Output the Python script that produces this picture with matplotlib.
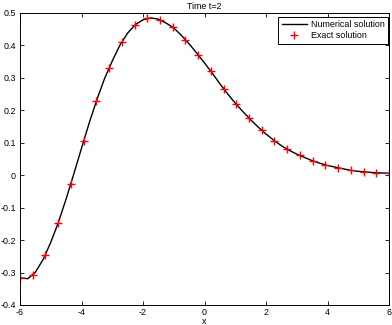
import numpy as np
import matplotlib
matplotlib.use("Agg")
import matplotlib.pyplot as plt

plt.rcParams['font.family'] = ['Liberation Sans', 'DejaVu Sans']
plt.rcParams['axes.unicode_minus'] = False

# Exact solution (markers)
exact_x = np.linspace(-6, 6, 30)
exact_y = [-0.316, -0.306, -0.246, -0.147, -0.026, 0.105, 0.229, 0.332, 0.411, 0.462,
           0.484, 0.479, 0.457, 0.418, 0.371, 0.320, 0.266, 0.218, 0.176, 0.138,
           0.106, 0.080, 0.061, 0.044, 0.032, 0.023, 0.015, 0.011, 0.008, 0.006]

# Numerical solution (line)
num_x = np.arange(-6, 6.001, 0.25)
num_y = [-0.316, -0.319, -0.299, -0.260, -0.207, -0.145, -0.073, 0.004, 0.083, 0.161,
         0.233, 0.298, 0.352, 0.401, 0.438, 0.464, 0.479, 0.485, 0.481, 0.469,
         0.454, 0.431, 0.405, 0.376, 0.346, 0.315, 0.282, 0.251, 0.222, 0.196,
         0.171, 0.148, 0.127, 0.108, 0.091, 0.077, 0.065, 0.055, 0.045, 0.037,
         0.030, 0.025, 0.020, 0.015, 0.012, 0.010, 0.008, 0.007, 0.006]

xticks = [-6, -4, -2, 0, 2, 4, 6]
xtick_labels = ['-6', '-4', '-2', '0', '2', '4', '6']
yticks = [-0.4, -0.3, -0.2, -0.1, 0, 0.1, 0.2, 0.3, 0.4, 0.5]
ytick_labels = ['-0.4', '-0.3', '-0.2', '-0.1', '0', '0.1', '0.2', '0.3', '0.4', '0.5']

FS = 6.4

fig = plt.figure(figsize=(3.92, 3.25), dpi=100)
ax = fig.add_axes([20/392, 20/325, 369/392, 292/325])

ax.plot(num_x, num_y, color='black', lw=1.0, label='Numerical solution')
ax.plot(exact_x, exact_y, linestyle='none', marker='+', color='red',
        markersize=5.2, markeredgewidth=1.0, label='Exact solution')

ax.set_xlim(-6, 6)
ax.set_ylim(-0.4, 0.5)
ax.set_xticks(xticks)
ax.set_xticklabels(xtick_labels)
ax.set_yticks(yticks)
ax.set_yticklabels(ytick_labels)
ax.tick_params(direction='in', length=3, width=0.6, labelsize=FS, top=True, right=True)
ax.tick_params(axis='x', pad=2.5)
ax.tick_params(axis='y', pad=3)
for s in ax.spines.values():
    s.set_linewidth(0.7)

ax.set_title('Time t=2', fontsize=FS, pad=3)
ax.set_xlabel('x', fontsize=FS, labelpad=0)

leg = ax.legend(loc='upper right', bbox_to_anchor=(0.997, 0.986), borderaxespad=0,
                fontsize=FS, frameon=True, fancybox=False,
                edgecolor='black', framealpha=1,
                handlelength=2.9, handletextpad=0.4, borderpad=0.35, labelspacing=0.25)
leg.get_frame().set_linewidth(0.7)

fig.savefig('out.png', dpi=100)
